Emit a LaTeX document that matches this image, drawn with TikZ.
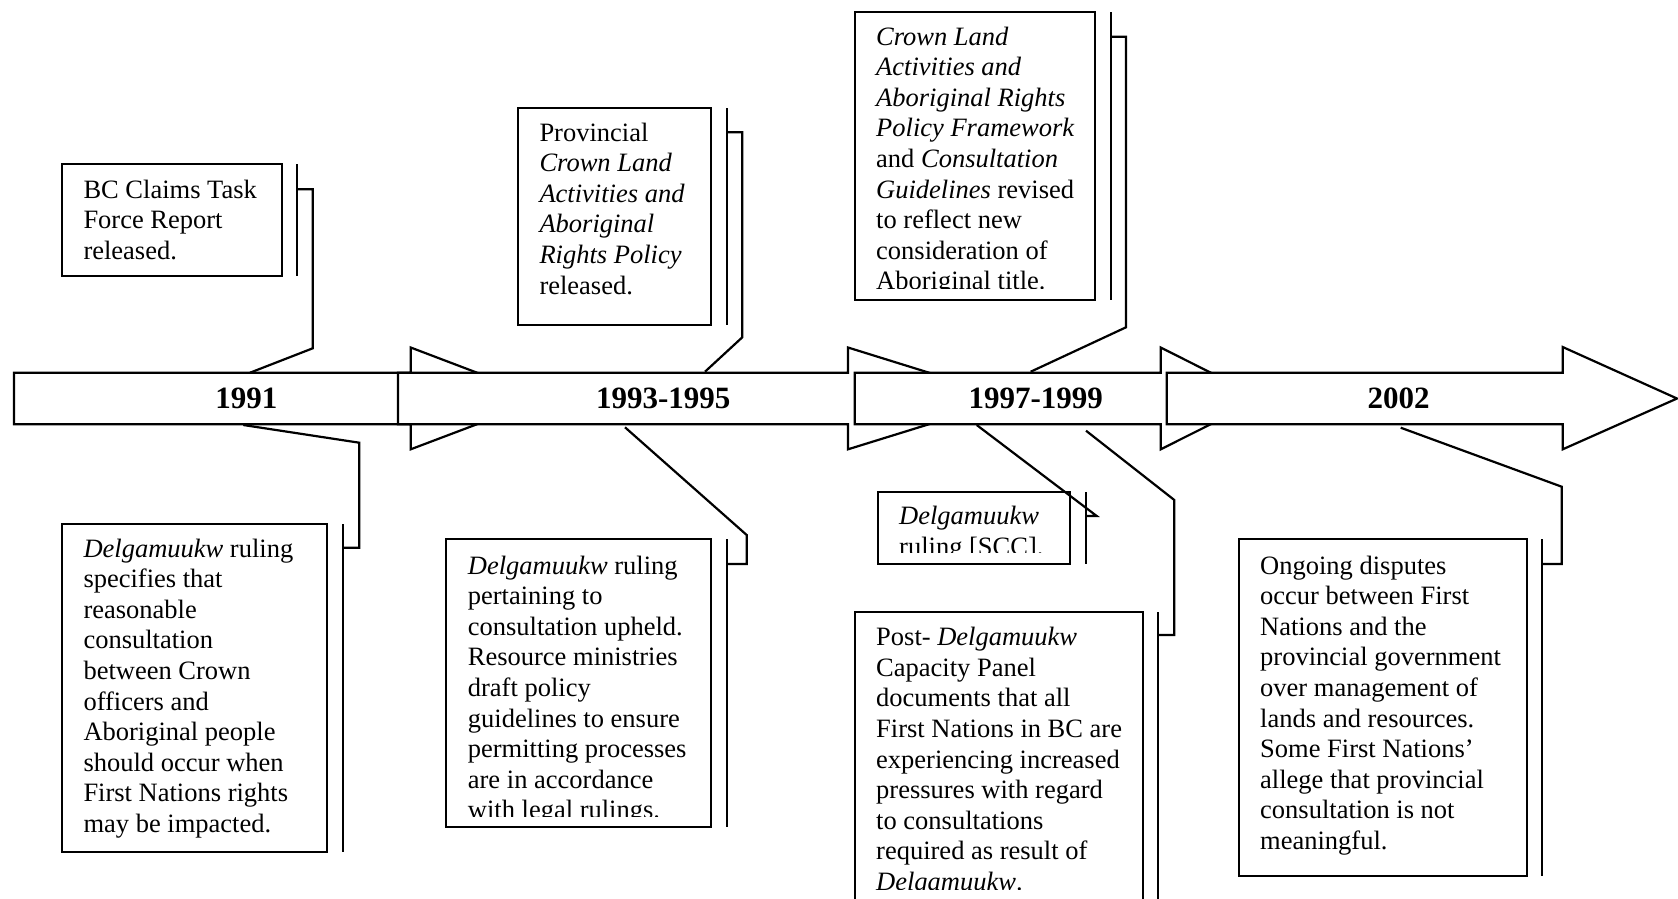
\documentclass[tikz,border=0pt]{standalone}
\usepackage{fontspec}
\setmainfont{Liberation Serif}
\newcommand{\ctxt}[1]{\parbox[t]{400pt}{\fontsize{26.5}{30.6}\selectfont\raggedright #1}}
\tikzset{
  band/.style={draw, line width=2.2pt, fill=white, line join=miter},
  cbox/.style={draw, line width=2.2pt, fill=white, rectangle, inner sep=0pt, outer sep=0pt, anchor=north west},
  bar/.style={line width=2.2pt},
  leader/.style={line width=2.2pt},
  yearlbl/.style={font=\fontsize{31}{36}\selectfont\bfseries, inner sep=0pt},
  ctext/.style={anchor=base west, inner sep=0pt},
}
\begin{document}
\begin{tikzpicture}[x=1pt,y=-1pt]
\clip (0,0) rectangle (1678,898);
\fill[white] (0,0) rectangle (1678,898);

% ---- timeline block arrows ----
\draw[band] (14,372.7) -- (410.7,372.7) -- (410.7,347.5) -- (545,398.5) -- (410.7,449.3) -- (410.7,424.3) -- (14,424.3) -- cycle;
\draw[band] (398,372.7) -- (848,372.7) -- (848,347.5) -- (1012,398.5) -- (848,449.3) -- (848,424.3) -- (398,424.3) -- cycle;
\draw[band] (854.7,372.7) -- (1160.7,372.7) -- (1160.7,347.5) -- (1262,398.5) -- (1160.7,449.3) -- (1160.7,424.3) -- (854.7,424.3) -- cycle;
\draw[band] (1166.7,372.7) -- (1562.7,372.7) -- (1562.7,347) -- (1677,398.5) -- (1562.7,449.3) -- (1562.7,424.3) -- (1166.7,424.3) -- cycle;

\node[yearlbl] (y1) at (246.3,398.5) {1991};
\node[yearlbl] (y2) at (663.3,398.5) {1993-1995};
\node[yearlbl] (y3) at (1035.8,398.5) {1997-1999};
\node[yearlbl] (y4) at (1398.7,398.5) {2002};

% ---- callout 1 (top, 1991) ----
\node[cbox, minimum width=220pt, minimum height=112pt] (c1) at (62,164) {};
\draw[bar] (296.7,164) -- (296.7,276);
\coordinate (l1s) at (296.7,189.3);
\coordinate (l1e) at (250,372.7);
\draw[leader] (l1s) -- (312.7,189.3) -- (312.7,348.3) -- (l1e);
\node[ctext] (t1) at (83.3,198) {\ctxt{BC Claims Task\\Force Report\\released.}};

% ---- callout 2 (bottom, 1991) ----
\node[cbox, minimum width=264.7pt, minimum height=328pt] (c2) at (62,524.3) {};
\draw[bar] (342.7,524.3) -- (342.7,852.3);
\coordinate (l2s) at (342.7,547.7);
\coordinate (l2e) at (243.3,425);
\draw[leader] (l2s) -- (359.3,547.7) -- (359.3,442.7) -- (l2e);
\node[ctext] (t2) at (83.3,557) {\ctxt{\textit{Delgamuukw} ruling\\specifies that\\reasonable\\consultation\\between Crown\\officers and\\Aboriginal people\\should occur when\\First Nations rights\\may be impacted.}};

% ---- callout 3 (top, 1993-1995) ----
\node[cbox, minimum width=192.4pt, minimum height=216.7pt] (c3) at (518.3,108.3) {};
\draw[bar] (726.7,108.3) -- (726.7,325);
\coordinate (l3s) at (726.7,132.3);
\coordinate (l3e) at (705,371.7);
\draw[leader] (l3s) -- (742.3,132.3) -- (742.3,337.3) -- (l3e);
\node[ctext] (t3) at (539.3,141) {\ctxt{Provincial\\\textit{Crown Land}\\\textit{Activities and}\\\textit{Aboriginal}\\\textit{Rights Policy}\\released.}};

% ---- callout 4 (bottom, 1993-1995) ----
\node[cbox, minimum width=264.7pt, minimum height=288.3pt] (c4) at (446,539) {};
\draw[bar] (726.7,539) -- (726.7,827.3);
\coordinate (l4s) at (726.7,564);
\coordinate (l4e) at (625,427.3);
\draw[leader] (l4s) -- (746.7,564) -- (746.7,535) -- (l4e);
\begin{scope}
\clip (448,541) rectangle (708,816.7);
\node[ctext] (t4) at (467.7,574) {\ctxt{\textit{Delgamuukw} ruling\\pertaining to\\consultation upheld.\\Resource ministries\\draft policy\\guidelines to ensure\\permitting processes\\are in accordance\\with legal rulings.}};
\end{scope}

% ---- callout 5 (top, 1997-1999) ----
\node[cbox, minimum width=240.3pt, minimum height=287.7pt] (c5) at (854.7,12.3) {};
\draw[bar] (1110.7,12.3) -- (1110.7,300);
\coordinate (l5s) at (1110.7,36.7);
\coordinate (l5e) at (1030.7,371.7);
\draw[leader] (l5s) -- (1126,36.7) -- (1126,327.3) -- (l5e);
\begin{scope}
\clip (857,14) rectangle (1093,288.7);
\node[ctext] (t5) at (876,45) {\ctxt{\textit{Crown Land}\\\textit{Activities and}\\\textit{Aboriginal Rights}\\\textit{Policy Framework}\\and \textit{Consultation}\\\textit{Guidelines} revised\\to reflect new\\consideration of\\Aboriginal title.}};
\end{scope}

% ---- callout 6 (bottom, 1997-1999 small) ----
\node[cbox, minimum width=192.3pt, minimum height=71.7pt] (c6) at (877.7,492.3) {};
\draw[bar] (1086,492.3) -- (1086,564);
\coordinate (l6s) at (1086,516);
\coordinate (l6e) at (976.7,425);
\draw[leader] (l6s) -- (1096.7,516) -- (l6e);
\begin{scope}
\clip (880,494) rectangle (1068,552.7);
\node[ctext] (t6) at (899,524.7) {\ctxt{\textit{Delgamuukw}\\ruling [SCC].}};
\end{scope}

% ---- callout 7 (bottom, 1997-1999 large) ----
\node[cbox, minimum width=288.3pt, minimum height=300pt] (c7) at (855,612.3) {};
\draw[bar] (1158.3,612.3) -- (1158.3,905);
\coordinate (l7s) at (1158.3,635);
\coordinate (l7e) at (1086,430.7);
\draw[leader] (l7s) -- (1174.3,635) -- (1174.3,500) -- (l7e);
\begin{scope}
\clip (857,614) rectangle (1141,889.3);
\node[ctext] (t7) at (876,645.7) {\ctxt{Post- \textit{Delgamuukw}\\Capacity Panel\\documents that all\\First Nations in BC are\\experiencing increased\\pressures with regard\\to consultations\\required as result of\\\textit{Delgamuukw}.}};
\end{scope}

% ---- callout 8 (bottom, 2002) ----
\node[cbox, minimum width=288.6pt, minimum height=337pt] (c8) at (1238.7,539) {};
\draw[bar] (1541.7,539) -- (1541.7,876);
\coordinate (l8s) at (1541.7,564);
\coordinate (l8e) at (1400.7,427.7);
\draw[leader] (l8s) -- (1561.7,564) -- (1561.7,486.7) -- (l8e);
\node[ctext] (t8) at (1260,574) {\ctxt{Ongoing disputes\\occur between First\\Nations and the\\provincial government\\over management of\\lands and resources.\\Some First Nations'\\allege that provincial\\consultation is not\\meaningful.}};
\end{tikzpicture}
\end{document}
